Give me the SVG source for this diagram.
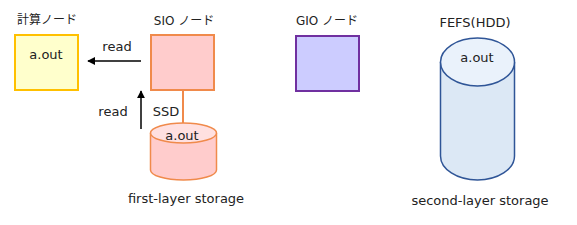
<svg xmlns="http://www.w3.org/2000/svg" width="577" height="225" viewBox="0 0 577 225">
<style>
text{font-family:"DejaVu Sans","Noto Sans CJK JP",sans-serif;font-size:13px;fill:#222;text-anchor:middle}
.jp{font-size:12px}
.arrow{stroke:#000;stroke-width:1.5;fill:none}
</style>
<defs>
<marker id="ah" viewBox="0 0 10 10" refX="9" refY="5" markerWidth="5.5" markerHeight="5.5" orient="auto" markerUnits="strokeWidth">
<path d="M0,0 L10,5 L0,10 z" fill="#000"/>
</marker>
</defs>
<rect width="577" height="225" fill="#fff"/>
<g id="connectors">
<line class="arrow" x1="141" y1="61" x2="88" y2="61" marker-end="url(#ah)"/>
<line class="arrow" x1="141" y1="129" x2="141" y2="91" marker-end="url(#ah)"/>
<line x1="183" y1="90" x2="183" y2="123" stroke="#F08A4B" stroke-width="2"/>
<text x="117" y="51">read</text>
<text x="113" y="116">read</text>
<text x="166" y="116">SSD</text>
</g>
<g id="compute-node">
<text class="jp" x="47" y="24">計算ノード</text>
<rect x="15" y="35" width="63" height="55" fill="#FFFFCC" stroke="#FFC000" stroke-width="2"/>
<text x="46" y="59">a.out</text>
</g>
<g id="sio-node">
<text class="jp" x="184" y="25">SIO ノード</text>
<rect x="151" y="35" width="63" height="55" fill="#FFCCCC" stroke="#F08A4B" stroke-width="2"/>
</g>
<g id="gio-node">
<text class="jp" x="327" y="25">GIO ノード</text>
<rect x="296" y="36" width="63" height="55" fill="#CCCCFF" stroke="#7030A0" stroke-width="2"/>
</g>
<g id="ssd-storage">
<path d="M150.5,133 L150.5,170 A33,10 0 0 0 216.5,170 L216.5,133" fill="#FFCCCC" stroke="#F08A4B" stroke-width="1.5"/>
<ellipse cx="183.5" cy="133" rx="33" ry="10" fill="#FFE0E0" stroke="#F08A4B" stroke-width="1.5"/>
<text x="182" y="140">a.out</text>
<text x="186" y="203">first-layer storage</text>
</g>
<g id="fefs-storage">
<text x="475" y="27">FEFS(HDD)</text>
<path d="M440.5,62 L440.5,156 A37,24 0 0 0 514.5,156 L514.5,62" fill="#DCE8F5" stroke="#2F5597" stroke-width="1.5"/>
<ellipse cx="477.5" cy="62" rx="37" ry="24" fill="#EAF2FB" stroke="#2F5597" stroke-width="1.5"/>
<text x="477" y="62">a.out</text>
<text x="480" y="205">second-layer storage</text>
</g>
</svg>
